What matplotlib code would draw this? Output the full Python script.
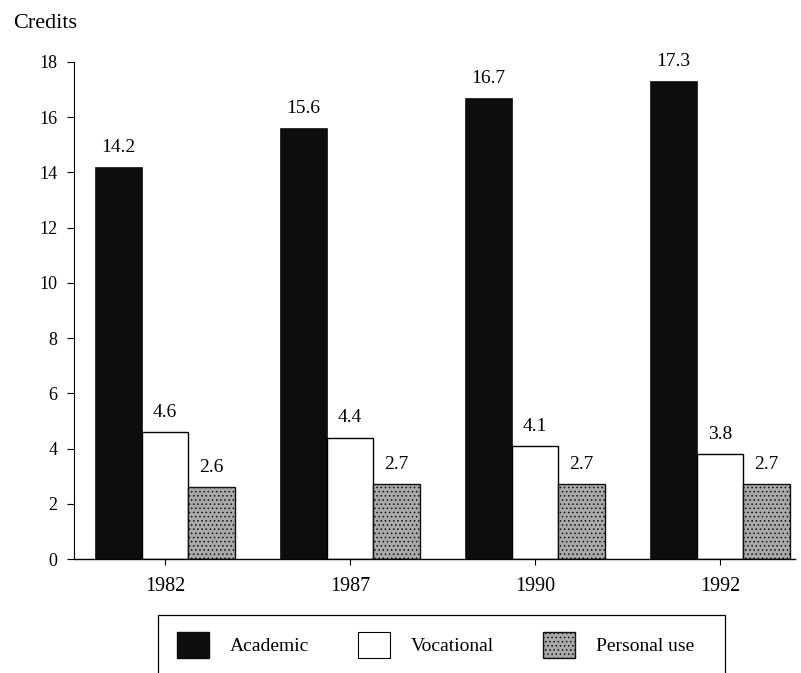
import matplotlib
matplotlib.use('Agg')
import matplotlib.pyplot as plt
import matplotlib.patches as mpatches
import numpy as np

years = ['1982', '1987', '1990', '1992']
academic = [14.2, 15.6, 16.7, 17.3]
vocational = [4.6, 4.4, 4.1, 3.8]
personal = [2.6, 2.7, 2.7, 2.7]

plt.rcParams['font.family'] = ['Liberation Serif', 'DejaVu Serif']
plt.rcParams['hatch.linewidth'] = 0.6

W, H = 801, 673
fig = plt.figure(figsize=(W / 100, H / 100), dpi=100)
ax = fig.add_axes([74 / W, 1 - 559 / H, (795 - 74) / W, (559 - 62) / H])

x = np.arange(len(years))
w = 0.251
dark = '#0d0d0d'
grey = '#a9a9a9'

ax.bar(x - w, academic, w, color=dark, edgecolor=dark, linewidth=0.5)
ax.bar(x, vocational, w, color='white', edgecolor='black', linewidth=1.0)
ax.bar(x + w, personal, w, color=grey, edgecolor='#111111', linewidth=1.0, hatch='....')

# value labels over each bar
for offs, vals in [(x - w, academic), (x, vocational), (x + w, personal)]:
    for xi, v in zip(offs, vals):
        ax.text(xi, v + 0.55, f'{v:.1f}', ha='center', va='baseline', fontsize=14)

ax.set_xlim(-0.492, 3.405)
ax.set_ylim(0, 18)
ax.set_yticks(range(0, 19, 2))
ax.set_xticks(x)
ax.set_xticklabels(years)
ax.tick_params(axis='y', direction='out', length=5, width=0.8, labelsize=13, pad=7)
ax.tick_params(axis='x', direction='out', length=4, width=0.8, labelsize=14.5, pad=9)
for s in ['top', 'right']:
    ax.spines[s].set_visible(False)
ax.spines['left'].set_linewidth(0.8)
ax.spines['bottom'].set_linewidth(1.0)

fig.text(13 / W, 1 - 23 / H, 'Credits', fontsize=16, va='center', ha='left')

# legend box, open at the bottom edge of the page
fig.patches.append(mpatches.Rectangle((158 / W, 1 - 700 / H), (725 - 158) / W, (700 - 615) / H,
                                      transform=fig.transFigure, fill=False,
                                      edgecolor='black', linewidth=0.9))
handles = [
    mpatches.Patch(facecolor=dark, edgecolor=dark, label='Academic'),
    mpatches.Patch(facecolor='white', edgecolor='black', linewidth=0.8, label='Vocational'),
    mpatches.Patch(facecolor=grey, edgecolor='#111111', hatch='....', label='Personal use'),
]
fig.legend(handles=handles, loc='upper left', bbox_to_anchor=(177 / W, 1 - 632 / H),
           ncol=3, frameon=False, fontsize=14,
           handlelength=1.65, handleheight=1.65, columnspacing=2.5, handletextpad=1.08,
           borderpad=0, borderaxespad=0)

fig.savefig('out.png', dpi=100)
